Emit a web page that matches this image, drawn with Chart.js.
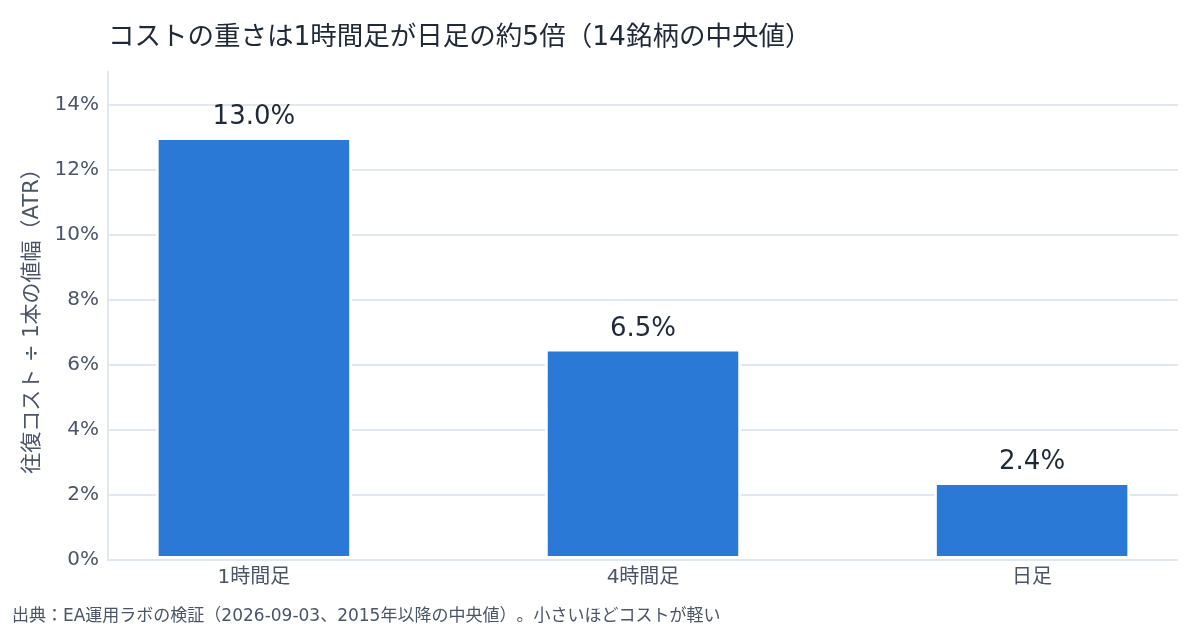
<!DOCTYPE html>
<html>
<head>
<meta charset="utf-8">
<script src="https://cdn.jsdelivr.net/npm/chart.js@4.4.0/dist/chart.umd.min.js"></script>
<style>
  html, body { margin: 0; padding: 0; background: #ffffff; }
  #wrap { width: 1200px; height: 630px; position: relative; }
  canvas { text-spacing-trim: space-all; }
</style>
</head>
<body>
<div id="wrap"><canvas id="costChart" width="1200" height="630"></canvas></div>
<script>
// データ（14銘柄の中央値）
const categories = ['1時間足', '4時間足', '日足'];
const costValues = [13.0, 6.5, 2.4];
const yTicks = [0, 2, 4, 6, 8, 10, 12, 14];

const titleText = 'コストの重さは1時間足が日足の約5倍（14銘柄の中央値）';
const yTitleText = '往復コスト ÷ 1本の値幅（ATR）';
const footerText = '出典：EA運用ラボの検証（2026-09-03、2015年以降の中央値）。小さいほどコストが軽い';

const fontFamily = '"DejaVu Sans", "Noto Sans CJK JP", sans-serif';
const barColor = '#2a79d6';
const gridColor = '#e1e7ef';
const tickColor = '#4a5568';
const textColor = '#1f2937';

// タイトル・出典・値ラベルを描くプラグイン
const textPlugin = {
    id: 'textPlugin',
    afterDatasetsDraw(chart) {
        const ctx = chart.ctx;
        const meta = chart.getDatasetMeta(0);
        ctx.save();
        ctx.fillStyle = textColor;
        ctx.font = '26px ' + fontFamily;
        ctx.textAlign = 'center';
        ctx.textBaseline = 'alphabetic';
        meta.data.forEach((bar, i) => {
            ctx.fillText(costValues[i].toFixed(1) + '%', bar.x, bar.y - 13);
        });
        ctx.restore();
    },
    afterDraw(chart) {
        const ctx = chart.ctx;
        ctx.save();
        ctx.textAlign = 'left';
        ctx.textBaseline = 'middle';
        ctx.fillStyle = textColor;
        ctx.font = '26.5px ' + fontFamily;
        ctx.fillText(titleText, 108, 38);
        ctx.fillStyle = tickColor;
        ctx.font = '17px ' + fontFamily;
        ctx.fillText(footerText, 12, 617);
        ctx.restore();
    }
};

const ctx = document.getElementById('costChart').getContext('2d');
const costChart = new Chart(ctx, {
    type: 'bar',
    data: {
        datasets: [{
            data: costValues.map((v, i) => ({ x: i, y: v })),
            backgroundColor: barColor,
            borderColor: '#ffffff',
            borderWidth: 3,
            borderSkipped: false,
            barPercentage: 0.505,
            categoryPercentage: 1.0
        }]
    },
    options: {
        responsive: false,
        animation: false,
        layout: { padding: { top: 72, right: 22, bottom: 22, left: 0 } },
        plugins: {
            legend: { display: false },
            tooltip: { enabled: false }
        },
        scales: {
            x: {
                type: 'linear',
                offset: false,
                min: -0.375,
                max: 2.375,
                afterBuildTicks: (scale) => { scale.ticks = categories.map((c, i) => ({ value: i })); },
                afterFit: (scale) => { scale.height = 48; },
                grid: { display: false, drawTicks: false, offset: false },
                border: { display: false },
                ticks: {
                    padding: 6,
                    color: tickColor,
                    font: { family: fontFamily, size: 20 },
                    callback: (v) => categories[v]
                }
            },
            y: {
                min: 0,
                max: 15,
                afterBuildTicks: (scale) => { scale.ticks = yTicks.map(v => ({ value: v })); },
                afterFit: (scale) => { scale.width = 108; },
                grid: { color: gridColor, lineWidth: 2, drawTicks: false },
                border: { display: true, color: gridColor, width: 2 },
                ticks: {
                    padding: 9,
                    color: tickColor,
                    font: { family: fontFamily, size: 20 },
                    callback: (v) => v + '%'
                },
                title: {
                    display: true,
                    text: yTitleText,
                    color: tickColor,
                    font: { family: fontFamily, size: 21 },
                    padding: { top: 20, bottom: 0 }
                }
            }
        }
    },
    plugins: [textPlugin]
});
</script>
</body>
</html>
